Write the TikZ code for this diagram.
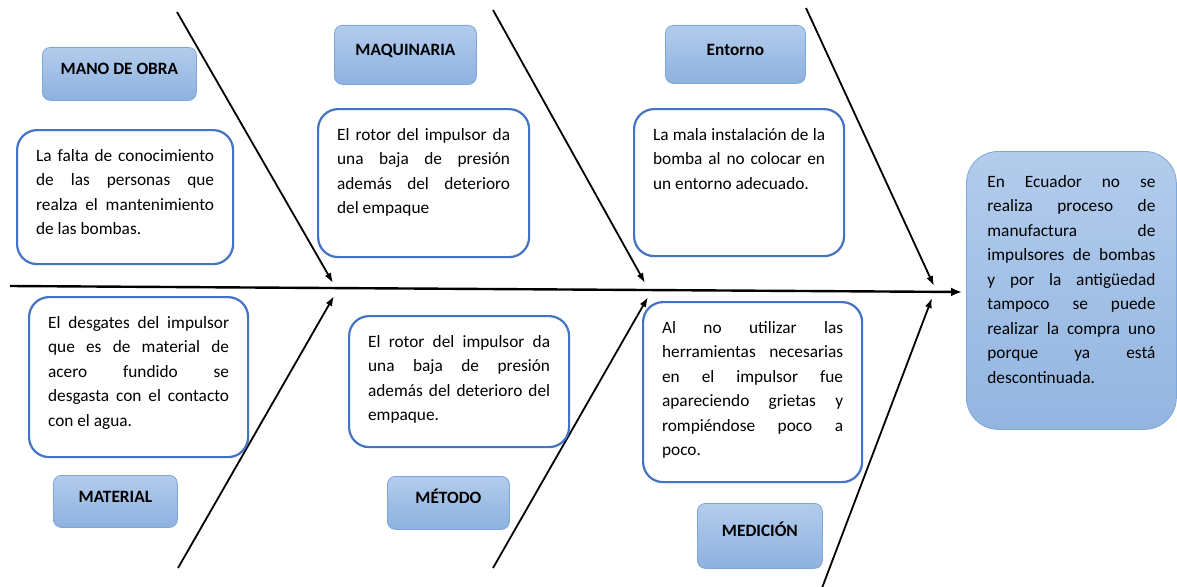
\documentclass[tikz,border=0pt]{standalone}
\usepackage{fontspec}
\setmainfont{Carlito}
\usetikzlibrary{arrows.meta,positioning}
\definecolor{boxline}{HTML}{4472C4}
\definecolor{lbltop}{HTML}{B3CCEC}
\definecolor{lblbot}{HTML}{8DB1DF}
\definecolor{lblline}{HTML}{7FA6D8}
\definecolor{eftop}{HTML}{B3CCEC}
\definecolor{efbot}{HTML}{92B5E0}
\newcommand{\tam}{\fontsize{17.3pt}{24.5pt}\selectfont}
\newcommand{\caja}[3]{\parbox[c][#2][t]{#1}{\hyphenpenalty10000\tolerance10000\hbadness10000 #3}}
\tikzset{
causa/.style={draw=boxline, line width=2.2pt, rounded corners=20pt,
  fill=white, anchor=north west, inner xsep=19pt, inner ysep=19pt},
etiq/.style 2 args={draw=lblline, line width=0.8pt, rounded corners=8pt,
  top color=lbltop, bottom color=lblbot, anchor=north west, inner sep=0pt,
  font=\tam\bfseries, text height=11pt, text depth=9pt,
  minimum width=#1, minimum height=#2},
efecto/.style={draw=lblline, line width=0.8pt, rounded corners=32pt,
  top color=eftop, bottom color=efbot, anchor=north west,
  inner xsep=21pt, inner ysep=24pt},
espina/.style={line width=2.4pt, -{Latex[length=11pt,width=9pt]}},
hueso/.style={line width=1.8pt, -{Latex[length=10pt,width=7pt]}}
}

\begin{document}
\begin{tikzpicture}[x=1pt, y=-1pt, every node/.style={font=\tam}]
\useasboundingbox (0,0) rectangle (1177,586);

% espina central
\coordinate (e0) at (10,286);
\coordinate (e1) at (962,292);
\draw[espina] (e0) -- (e1);

% huesos
\coordinate (h1a) at (177,12);  \coordinate (h1b) at (333,283);
\coordinate (h2a) at (493,10);  \coordinate (h2b) at (645,283);
\coordinate (h3a) at (806,8);   \coordinate (h3b) at (934,286);
\coordinate (h4a) at (178,568); \coordinate (h4b) at (334,296);
\coordinate (h5a) at (493,568); \coordinate (h5b) at (648,297);
\coordinate (h6a) at (822,588); \coordinate (h6b) at (932,298);
\foreach \i in {1,...,6}
  \draw[hueso] (h\i a) -- (h\i b);

% etiquetas
\node[etiq={154pt}{53pt}] (obra) at (42,47) {MANO DE OBRA};
\node[etiq={142pt}{59pt}] (maq) at (334,25) {MAQUINARIA};
\node[etiq={140pt}{58pt}] (ent) at (665,25) {Entorno};
\node[etiq={124pt}{52pt}] (mat) at (53,475) {MATERIAL};
\node[etiq={122pt}{53pt}] (met) at (387,476) {MÉTODO};
\node[etiq={125pt}{65pt}] (med) at (697,503) {MEDICIÓN};

% causas
\node[causa] (cobra) at (16,129) {\caja{178pt}{96pt}{La falta de conocimiento\linebreak
  de las personas que\linebreak realza el mantenimiento\linebreak de las bombas.}};
\node[causa] (cmaq) at (317,108) {\caja{173pt}{110pt}{El rotor del impulsor da\linebreak
  una baja de presión\linebreak además del deterioro\linebreak del empaque}};
\node[causa] (cent) at (633,108) {\caja{172pt}{109pt}{La mala instalación de la\linebreak
  bomba al no colocar en\linebreak un entorno adecuado.}};
\node[causa] (cmat) at (28,296) {\caja{181pt}{122pt}{El desgates del impulsor\linebreak
  que es de material de\linebreak acero fundido se\linebreak
  desgasta con el contacto\linebreak con el agua.}};
\node[causa] (cmet) at (348,315) {\caja{182pt}{93pt}{El rotor del impulsor da\linebreak
  una baja de presión\linebreak además del deterioro del\linebreak empaque.}};
\node[causa] (cmed) at (642,301) {\caja{181pt}{142pt}{Al no utilizar las\linebreak
  herramientas necesarias\linebreak en el impulsor fue\linebreak
  apareciendo grietas y\linebreak rompiéndose poco a\linebreak poco.}};

% efecto
\node[efecto] (efe) at (966,151) {\caja{168pt}{230pt}{En Ecuador no se\linebreak
  realiza proceso de\linebreak manufactura de\linebreak impulsores de bombas\linebreak
  y por la antigüedad\linebreak tampoco se puede\linebreak realizar la compra uno\linebreak
  porque ya está\linebreak descontinuada.}};
\end{tikzpicture}
\end{document}
